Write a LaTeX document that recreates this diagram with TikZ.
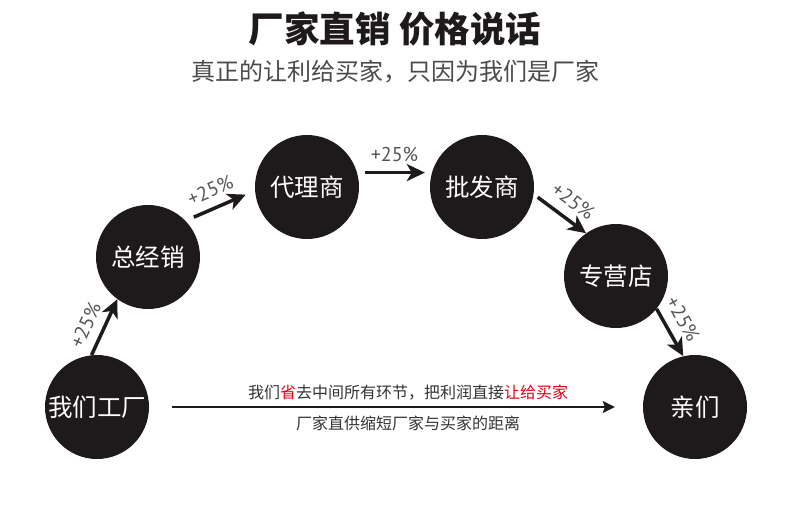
\documentclass[tikz,border=0pt]{standalone}
\usepackage{fontspec}
\newfontfamily\cjk{Noto Sans CJK SC}
\newfontfamily\lab{PT Sans}
\usetikzlibrary{arrows.meta}
\definecolor{dark}{HTML}{1E191A}
\definecolor{subgray}{HTML}{4A4A4A}
\definecolor{labgray}{HTML}{555555}
\definecolor{txtgray}{HTML}{333333}
\definecolor{hired}{HTML}{E60012}
\tikzset{
  ball/.style={circle, fill=dark, minimum size=104pt, inner sep=0pt, text=white,
    font=\cjk\fontsize{24.5}{24.5}\selectfont},
  bigarrow/.style={draw=dark, line width=3.5pt, -{Stealth[length=18pt,width=17pt,inset=5pt]}},
  longarrow/.style={draw=dark, line width=1.8pt, -{Stealth[length=12pt,width=12pt,inset=2pt]}},
  pct/.style={text=labgray, font=\lab\fontsize{20}{20}\selectfont, inner sep=0pt, sloped, above=9pt}
}
\begin{document}
\begin{tikzpicture}[x=1pt,y=-1pt]
\useasboundingbox (0,0) rectangle (790,509);
\node[text=dark, font=\cjk\bfseries\fontsize{35.5}{35.5}\selectfont] (title) at (395,29) {厂家直销 价格说话};
\node[text=subgray, font=\cjk\fontsize{24}{24}\selectfont] (sub) at (395,72) {真正的让利给买家，只因为我们是厂家};

\node[ball] (a) at (97,407) {我们工厂};
\node[ball] (b) at (148,257) {总经销};
\node[ball] (c) at (307,187) {代理商};
\node[ball] (d) at (482,187) {批发商};
\node[ball] (e) at (616,276) {专营店};
\node[ball] (f) at (695,407) {亲们};

\draw[bigarrow] (a.96) -- node[pct, pos=0.4] {+25\%} (b.234);
\draw[bigarrow, shorten <=9pt, shorten >=10pt] (b.44) -- node[pct, pos=0.46] {+25\%} (c.184);
\draw[bigarrow, shorten <=8pt, shorten >=7pt] (c.16) -- node[pct, pos=0.5] {+25\%} (d.164);
\draw[bigarrow, shorten <=5pt] (d.-8) -- node[pct, pos=0.55] {+25\%} (e.125);
\draw[bigarrow] (e.-39) -- node[pct, pos=0.4] {+25\%} (f.103);

\draw[longarrow, shorten <=23pt, shorten >=28pt] (a.east) -- (f.west);
\node[text=txtgray, font=\cjk\fontsize{16}{16}\selectfont] (t1) at (408,393) {我们\textcolor{hired}{省}去中间所有环节，把利润直接\textcolor{hired}{让给买家}};
\node[text=txtgray, font=\cjk\fontsize{16}{16}\selectfont] (t2) at (408,423) {厂家直供缩短厂家与买家的距离};
\end{tikzpicture}
\end{document}
